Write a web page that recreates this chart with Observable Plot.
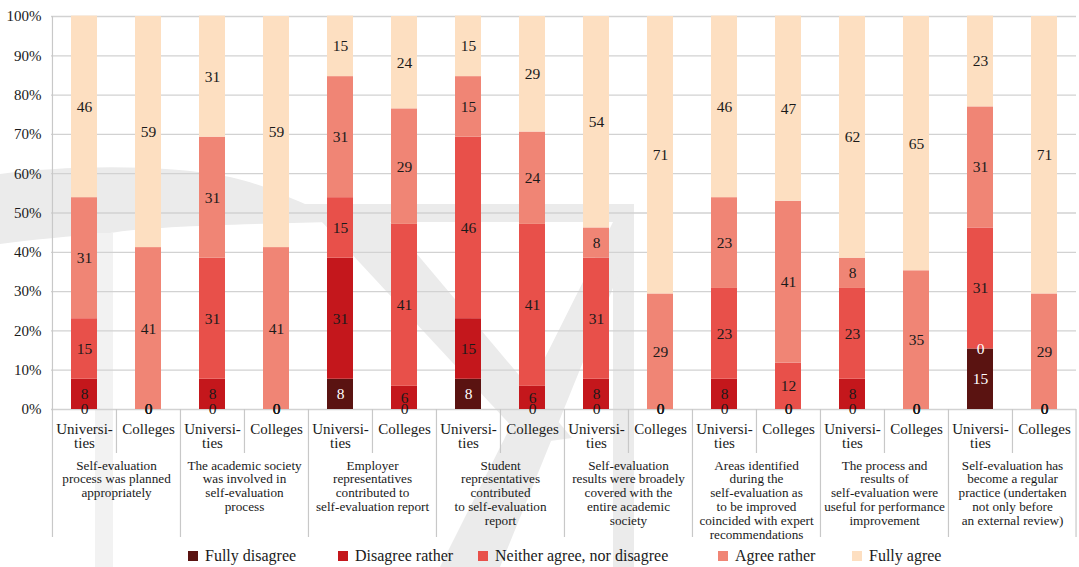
<!DOCTYPE html>
<html>
<head>
<meta charset="utf-8">
<script src="https://cdn.jsdelivr.net/npm/d3@7"></script>
<script src="https://cdn.jsdelivr.net/npm/@observablehq/plot@0.6"></script>
<style>
  html, body { margin: 0; padding: 0; background: #fff; }
  #wrap { position: relative; width: 1079px; height: 567px; font-family: "Liberation Serif", "DejaVu Serif", serif; color: #1a1a1a; }
  #bg { position: absolute; left: 0; top: 0; z-index: 0; }
  #chart { position: relative; z-index: 1; }
  #chart svg, #chart svg text { font-family: "Liberation Serif", "DejaVu Serif", serif !important; }
  #legend { position: relative; z-index: 1; height: 30px; font-size: 16px; }
  .item { position: absolute; top: 10px; display: flex; align-items: center; white-space: nowrap; }
  .sw { width: 10px; height: 10px; margin-right: 7px; }
</style>
</head>
<body>
<div id="wrap">
  <svg id="bg" width="1079" height="567" aria-hidden="true">
    <g fill="#ebebeb">
      <path d="M0,174 C60,166 160,163 230,177 C265,185 285,196 305,204 L634,204 L634,222 L330,222 C250,224 150,226 110,233 C70,236 30,240 0,244 Z"/>
      <rect x="613" y="204" width="21" height="363"/>
      <path d="M322,222 L390,222 L572,438 L528,444 Z"/>
      <path d="M613,222 L634,236 L500,567 L440,567 Z"/>
    </g>
    <rect x="95" y="233" width="18" height="334" fill="#f2f2f2"/>
  </svg>
  <div id="chart"></div>
  <div id="legend"></div>
</div>
<script>
// ---- data ----
const questions = [
  "Self-evaluation\nprocess was planned\nappropriately",
  "The academic society\nwas involved in\nself-evaluation\nprocess",
  "Employer\nrepresentatives\ncontributed to\nself-evaluation report",
  "Student\nrepresentatives\ncontributed\nto self-evaluation\nreport",
  "Self-evaluation\nresults were broadely\ncovered with the\nentire academic\nsociety",
  "Areas identified\nduring the\nself-evaluation as\nto be improved\ncoincided with expert\nrecommendations",
  "The process and\nresults of\nself-evaluation were\nuseful for performance\nimprovement",
  "Self-evaluation has\nbecome a regular\npractice (undertaken\nnot only before\nan external review)"
];
const types = ["Universities", "Colleges"];
const typeLabels = ["Universi-\nties", "Colleges"];
const series = ["Fully disagree", "Disagree rather", "Neither agree, nor disagree", "Agree rather", "Fully agree"];
const colors = ["#5a1311", "#c4171c", "#e8504a", "#f08575", "#fddfc1"];

// values in %, order: Q1 Univ, Q1 Coll, Q2 Univ, Q2 Coll, ...
const fullyDisagree  = [0, 0,    0, 0,    7.7, 0,    7.7, 0,    0, 0,    0, 0,     0, 0,    15.4, 0];
const disagreeRather = [7.7, 0,  7.7, 0,  30.8, 5.9, 15.4, 5.9, 7.7, 0,  7.7, 0,   7.7, 0,  0, 0];
const neither        = [15.4, 0, 30.8, 0, 15.4, 41.2, 46.2, 41.2, 30.8, 0, 23.1, 11.8, 23.1, 0, 30.8, 0];
const agreeRather    = [30.8, 41.2, 30.8, 41.2, 30.8, 29.4, 15.4, 23.5, 7.7, 29.4, 23.1, 41.2, 7.7, 35.3, 30.8, 29.4];
const fullyAgree     = [46.2, 58.8, 30.8, 58.8, 15.4, 23.5, 15.4, 29.4, 53.8, 70.6, 46.2, 47.1, 61.5, 64.7, 23.1, 70.6];
const seriesValues = [fullyDisagree, disagreeRather, neither, agreeRather, fullyAgree];

// ---- layout ----
const W = 1079, H = 537, ML = 51, MR = 3, MT = 16, Y0 = 409;
const MB = H - Y0;
const FONT = '"Liberation Serif", "DejaVu Serif", serif';
const keys = questions.flatMap((q, qi) => types.map((t, ti) => `${qi}-${ti}`));
const slot = (W - ML - MR) / keys.length;
const pxToY = px => (Y0 - px) / (Y0 - MT) * 100;

// ---- tables built from arrays ----
const rows = [];
keys.forEach((key, i) => {
  let cum = 0, lastNonZero = -1;
  seriesValues.forEach((vals, s) => {
    const v = vals[i];
    const white = (s === 0 && v > 0) || (v === 0 && lastNonZero === 0);
    rows.push({key, series: series[s], value: v, label: String(Math.round(v)), mid: cum + v / 2, white});
    cum += v;
    if (v > 0) lastNonZero = s;
  });
});
const subRows = keys.map((key, i) => ({key, label: typeLabels[i % 2]}));
const groupRows = questions.map((q, qi) => ({key: `${qi}-0`, label: q}));
const sepRows = keys.map((key, i) => ({key, long: i % 2 === 0}));

const chart = Plot.plot({
  width: W, height: H,
  marginLeft: ML, marginRight: MR, marginTop: MT, marginBottom: MB,
  style: {fontFamily: FONT, background: "transparent", color: "#1a1a1a", overflow: "visible"},
  x: {domain: keys, padding: 0, axis: null},
  y: {domain: [0, 100], axis: null},
  color: {domain: series, range: colors},
  marks: [
    Plot.gridY(d3.range(0, 101, 10), {stroke: "#d2d2d2", strokeOpacity: 1, strokeWidth: 1.3}),
    Plot.axisY(d3.range(0, 101, 10), {tickFormat: d => d + "%", tickSize: 0, tickPadding: 10, fontSize: 15, fill: "#1a1a1a"}),
    Plot.ruleX(sepRows, {x: "key", dx: -slot / 2, y1: d => d.long ? pxToY(537) : pxToY(453), y2: 0, stroke: "#c8c8c8", strokeWidth: 1.2}),
    Plot.ruleX([keys[0]], {dx: -slot / 2, y1: 0, y2: 100, stroke: "#c8c8c8", strokeWidth: 1.2}),
    Plot.ruleX([keys[keys.length - 1]], {dx: slot / 2 - 0.5, y1: pxToY(537), y2: 0, stroke: "#c8c8c8", strokeWidth: 1.2}),
    Plot.barY(rows, {x: "key", y: "value", fill: "series", insetLeft: 19, insetRight: 19}),
    Plot.text(rows.filter(d => !d.white), {x: "key", y: "mid", text: "label", fill: "#1a1a1a", fontSize: 15.5}),
    Plot.text(rows.filter(d => d.white), {x: "key", y: "mid", text: "label", fill: "#ffffff", fontSize: 15.5}),
    Plot.text(subRows, {x: "key", y: 0, text: "label", dy: 14.6, lineAnchor: "top", lineHeight: 0.93, fontSize: 15, fill: "#1a1a1a"}),
    Plot.text(groupRows, {x: "key", y: 0, text: "label", dx: slot / 2, dy: 50.3, lineAnchor: "top", lineHeight: 1.05, fontSize: 13.2, fill: "#1a1a1a"})
  ]
});
document.getElementById("chart").appendChild(chart);

// ---- legend ----
const legendX = [188, 338, 478, 718, 852];
const legend = document.getElementById("legend");
series.forEach((s, i) => {
  const it = document.createElement("div");
  it.className = "item";
  it.style.left = legendX[i] + "px";
  it.innerHTML = `<span class="sw" style="background:${colors[i]}"></span><span>${s}</span>`;
  legend.appendChild(it);
});
</script>
</body>
</html>
